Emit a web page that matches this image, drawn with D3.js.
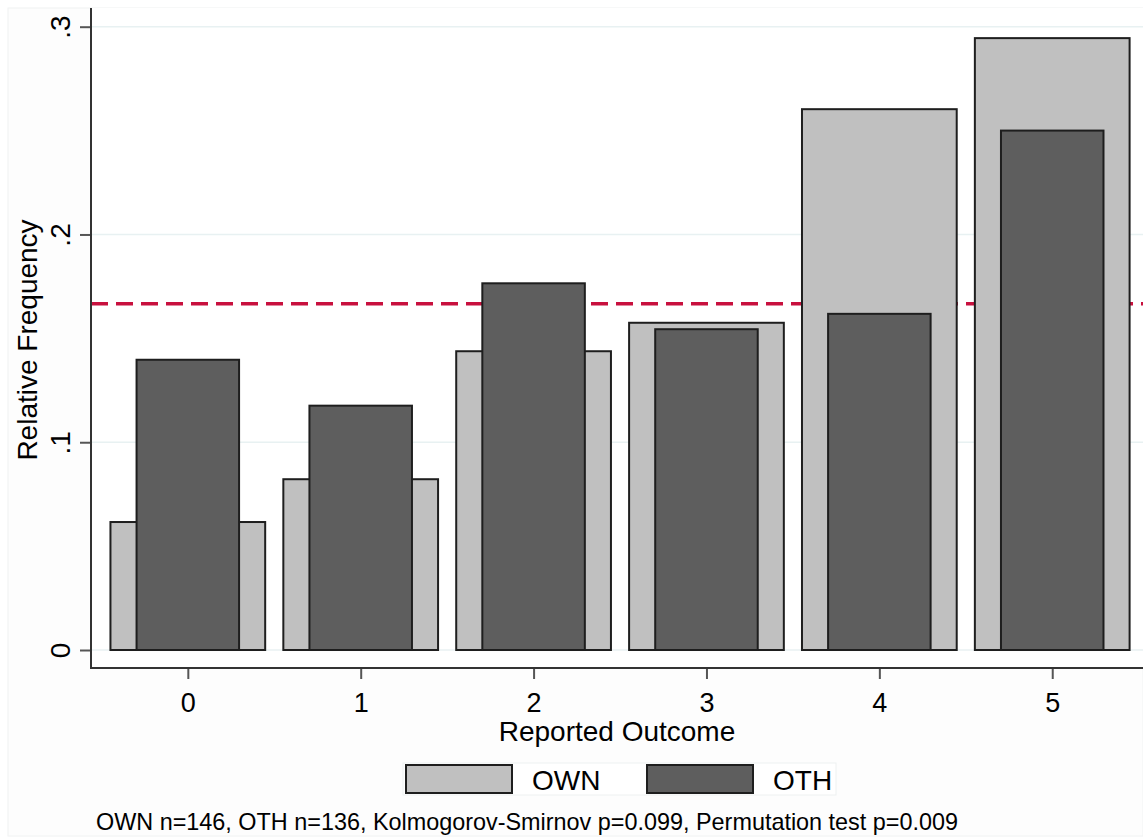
<!DOCTYPE html>
<html>
<head>
<meta charset="utf-8">
<script src="https://cdn.jsdelivr.net/npm/d3@7"></script>
<style>
  html, body { margin: 0; padding: 0; background: #fff; }
  svg { display: block; font-family: "Liberation Sans", Arial, sans-serif; }
</style>
</head>
<body>
<svg id="chart" width="1143" height="839"></svg>
<script>
// ---- data ----
const categories = [0, 1, 2, 3, 4, 5];
const ownValues = [0.0616, 0.0822, 0.1438, 0.1575, 0.2603, 0.2945];
const othValues = [0.1397, 0.1176, 0.1765, 0.1544, 0.1618, 0.2500];
const yTickValues = [0, 0.1, 0.2, 0.3];
const yTickLabels = ["0", ".1", ".2", ".3"];
const referenceLine = 1 / 6;
const seriesNames = ["OWN", "OTH"];
const noteText = "OWN n=146, OTH n=136, Kolmogorov-Smirnov p=0.099, Permutation test p=0.009";
const xTitle = "Reported Outcome";
const yTitle = "Relative Frequency";

// ---- layout ----
const W = 1143, H = 839;
const plot = { left: 91, right: 1143, top: 8, bottom: 668 };
const ownColor = "#c0c0c0", othColor = "#5e5e5e", edge = "#1e1e1e";
const bigFont = 28, tickFont = 27, noteFont = 23.4;

const svg = d3.select("#chart");

// faint graph region
svg.append("rect").attr("x", 8).attr("y", 8).attr("width", W - 8).attr("height", 828)
  .attr("fill", "#fdfdfd").attr("stroke", "#f0f2f2").attr("stroke-width", 1);
svg.append("rect").attr("x", plot.left).attr("y", plot.top)
  .attr("width", plot.right - plot.left).attr("height", plot.bottom - plot.top)
  .attr("fill", "#fff");

const x = d3.scaleLinear().domain([-0.56, 5.525]).range([plot.left, plot.right]);
const y = d3.scaleLinear().domain([-0.00866, 0.309]).range([plot.bottom, plot.top]);

// gridlines
svg.append("g").selectAll("line").data(yTickValues).join("line")
  .attr("x1", plot.left).attr("x2", plot.right)
  .attr("y1", d => y(d)).attr("y2", d => y(d))
  .attr("stroke", "#e8f1f2").attr("stroke-width", 1.5);

// reference line (behind bars)
svg.append("line")
  .attr("x1", plot.left).attr("x2", plot.right)
  .attr("y1", y(referenceLine)).attr("y2", y(referenceLine))
  .attr("stroke", "#c8103e").attr("stroke-width", 3.5)
  .attr("stroke-dasharray", "17,8");

const ownW = 0.895, othW = 0.593;
// OWN bars
svg.append("g").selectAll("rect").data(categories).join("rect")
  .attr("x", (d) => x(d - ownW / 2))
  .attr("width", (d) => x(d + ownW / 2) - x(d - ownW / 2))
  .attr("y", (d, i) => y(ownValues[i]))
  .attr("height", (d, i) => y(0) - y(ownValues[i]))
  .attr("fill", ownColor).attr("stroke", edge).attr("stroke-width", 2);
// OTH bars
svg.append("g").selectAll("rect").data(categories).join("rect")
  .attr("x", (d) => x(d - othW / 2))
  .attr("width", (d) => x(d + othW / 2) - x(d - othW / 2))
  .attr("y", (d, i) => y(othValues[i]))
  .attr("height", (d, i) => y(0) - y(othValues[i]))
  .attr("fill", othColor).attr("stroke", edge).attr("stroke-width", 2);

// y axis
const yAxis = svg.append("g").attr("transform", `translate(${plot.left},0)`)
  .call(d3.axisLeft(y).tickValues(yTickValues).tickSize(11)
    .tickFormat((d, i) => yTickLabels[i]));
yAxis.select(".domain").remove();
yAxis.selectAll(".tick line").attr("stroke", "#555").attr("stroke-width", 2);
yAxis.selectAll(".tick text")
  .attr("x", null).attr("dy", null)
  .attr("transform", "translate(-21,0) rotate(-90)")
  .attr("text-anchor", "middle")
  .attr("font-size", bigFont).attr("fill", "#000")
  .style("font-family", '"Liberation Sans", Arial, sans-serif');
svg.append("line").attr("x1", plot.left).attr("x2", plot.left)
  .attr("y1", plot.top).attr("y2", plot.bottom + 1)
  .attr("stroke", "#333").attr("stroke-width", 2);

// x axis
const xAxis = svg.append("g").attr("transform", `translate(0,${plot.bottom})`)
  .call(d3.axisBottom(x).tickValues(categories).tickSize(11).tickFormat(d3.format("d")));
xAxis.select(".domain").remove();
xAxis.selectAll(".tick line").attr("stroke", "#555").attr("stroke-width", 2);
xAxis.selectAll(".tick text")
  .attr("y", 44).attr("dy", null)
  .attr("font-size", tickFont).attr("fill", "#000")
  .style("font-family", '"Liberation Sans", Arial, sans-serif');
svg.append("line").attr("x1", plot.left - 1).attr("x2", plot.right)
  .attr("y1", plot.bottom).attr("y2", plot.bottom)
  .attr("stroke", "#333").attr("stroke-width", 2);

// axis titles
svg.append("text").attr("x", (plot.left + plot.right) / 2).attr("y", 741)
  .attr("text-anchor", "middle").attr("font-size", bigFont).attr("fill", "#000").text(xTitle);
svg.append("text")
  .attr("transform", `translate(37,${(plot.top + plot.bottom) / 2 + 2}) rotate(-90)`)
  .attr("text-anchor", "middle").attr("font-size", bigFont).attr("fill", "#000").text(yTitle);

// legend
const lg = svg.append("g");
lg.append("rect").attr("x", 403).attr("y", 763).attr("width", 433).attr("height", 32)
  .attr("fill", "#fff").attr("stroke", "#eef1f1").attr("stroke-width", 1);
const legendX = [406, 647];
const legendColors = [ownColor, othColor];
seriesNames.forEach((name, i) => {
  lg.append("rect").attr("x", legendX[i]).attr("y", 765).attr("width", 106).attr("height", 28)
    .attr("fill", legendColors[i]).attr("stroke", edge).attr("stroke-width", 2);
  lg.append("text").attr("x", legendX[i] + 126).attr("y", 790)
    .attr("font-size", bigFont).attr("fill", "#000").text(name);
});

// note
svg.append("text").attr("x", 96).attr("y", 830)
  .attr("font-size", noteFont).attr("fill", "#000").text(noteText);
</script>
</body>
</html>
